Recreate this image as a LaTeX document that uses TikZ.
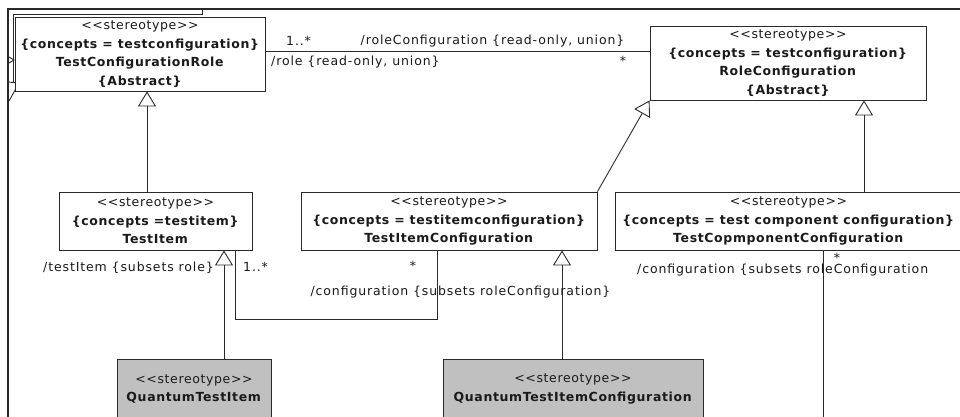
\documentclass[tikz,border=0pt]{standalone}
\usepackage{fontspec}
\setmainfont{DejaVu Sans}[LetterSpace=5]
\newfontfamily\lblfam{DejaVu Sans}[LetterSpace=7]
\usetikzlibrary{arrows.meta}

\definecolor{textc}{HTML}{1A1A1A}
\definecolor{linec}{HTML}{2A2A2A}
\definecolor{qgray}{HTML}{C0C0C0}

\newcommand{\boxfont}{\fontsize{12.5}{18.5}\selectfont}
\newcommand{\lblfont}{\lblfam\fontsize{12.5}{14}\selectfont}
\newcommand{\stereo}{<{}<stereotype>{}>}

\tikzset{
  cls/.style={draw=linec, line width=0.9pt, fill=white, align=center,
              inner sep=0pt, text=textc, font=\boxfont},
  qcls/.style={cls, fill=qgray},
  gen/.style={draw=linec, line width=0.9pt,
              -{Triangle[open, length=15pt, width=18pt, line width=0.9pt]}},
  assoc/.style={draw=linec, line width=0.9pt},
  frameline/.style={draw=linec, line width=1.4pt},
  thinline/.style={draw=linec, line width=0.9pt},
  lbl/.style={inner sep=0pt, text=textc, font=\lblfont},
}

\begin{document}
\begin{tikzpicture}[x=1pt, y=-1pt]
  \fill[white] (0,0) rectangle (960,416);
  \clip (0,0) rectangle (960,416);

  % enclosing package frame and the edge of a neighbouring element
  \draw[frameline] (960,9) -- (8,9) -- (8,420);
  \draw[thinline] (202,9) -- (202,14) -- (13,14) -- (13,82);
  \draw[thinline] (9,57) -- (14,60) -- (9,63);
  \draw[thinline] (8,82) -- (19,83) -- (9,101);

  % classes
  \node[cls, minimum width=250pt, minimum height=74pt] (tcr) at (140,54)
    {\stereo\\\textbf{\{concepts = testconfiguration\}}\\\textbf{TestConfigurationRole}\\\textbf{\{Abstract\}}};
  \node[cls, minimum width=276pt, minimum height=74pt] (rc) at (788,63)
    {\stereo\\\textbf{\{concepts = testconfiguration\}}\\\textbf{RoleConfiguration}\\\textbf{\{Abstract\}}};
  \node[cls, minimum width=193pt, minimum height=58pt] (ti) at (155.5,221)
    {\stereo\\\textbf{\{concepts =testitem\}}\\\textbf{TestItem}};
  \node[cls, minimum width=296pt, minimum height=58pt] (tic) at (449,221)
    {\stereo\\\textbf{\{concepts = testitemconfiguration\}}\\\textbf{TestItemConfiguration}};
  \node[cls, minimum width=347pt, minimum height=58pt] (tcc) at (788.5,221)
    {\stereo\\\textbf{\{concepts = test component configuration\}}\\\textbf{TestCopmponentConfiguration}};
  \node[qcls, minimum width=154pt, minimum height=60pt] (qti) at (194,389)
    {\stereo\\\textbf{QuantumTestItem}};
  \node[qcls, minimum width=260pt, minimum height=60pt] (qtic) at (573,389)
    {\stereo\\\textbf{QuantumTestItemConfiguration}};

  % generalizations
  \draw[gen] ([xshift=-8.5pt]ti.north) -- ([xshift=-8.5pt]ti.north |- tcr.south);
  \draw[gen] (tic.north east) -- (rc.south west);
  \draw[gen] ([xshift=75.5pt]tcc.north) -- ([xshift=75.5pt]tcc.north |- rc.south);
  \draw[gen] ([xshift=30pt]qti.north) -- ([xshift=30pt]qti.north |- ti.south);
  \draw[gen] ([xshift=-11pt]qtic.north) -- ([xshift=-11pt]qtic.north |- tic.south);

  % associations
  \draw[assoc] ([yshift=3pt]tcr.east) -- ([yshift=3pt]tcr.east -| rc.west);
  \draw[assoc] ([xshift=79.5pt]ti.south) -- ++(0,69) -| ([xshift=-12pt]tic.south);
  \coordinate (tccend) at (823,420);
  \draw[assoc] ([xshift=34.5pt]tcc.south) -- (tccend);

  % association end labels
  \node[lbl, anchor=base west] (m1) at (286,45) {1..*};
  \node[lbl, anchor=base] (rcname) at (492.5,44) {/roleConfiguration \{read-only, union\}};
  \node[lbl, anchor=base west] (rolename) at (271,65) {/role \{read-only, union\}};
  \node[lbl, anchor=base] (m2) at (623,65) {*};
  \node[lbl, anchor=base east] (tiname) at (214,271) {/testItem \{subsets role\}};
  \node[lbl, anchor=base west] (m3) at (243,271) {1..*};
  \node[lbl, anchor=base] (m4) at (413,270) {*};
  \node[lbl, anchor=base] (cfgname) at (460.5,295) {/configuration \{subsets roleConfiguration\}};
  \node[lbl, anchor=base] (m5) at (837,262) {*};
  \node[lbl, anchor=base west] (cfgname2) at (637,273) {/configuration \{subsets roleConfiguration};
\end{tikzpicture}
\end{document}
